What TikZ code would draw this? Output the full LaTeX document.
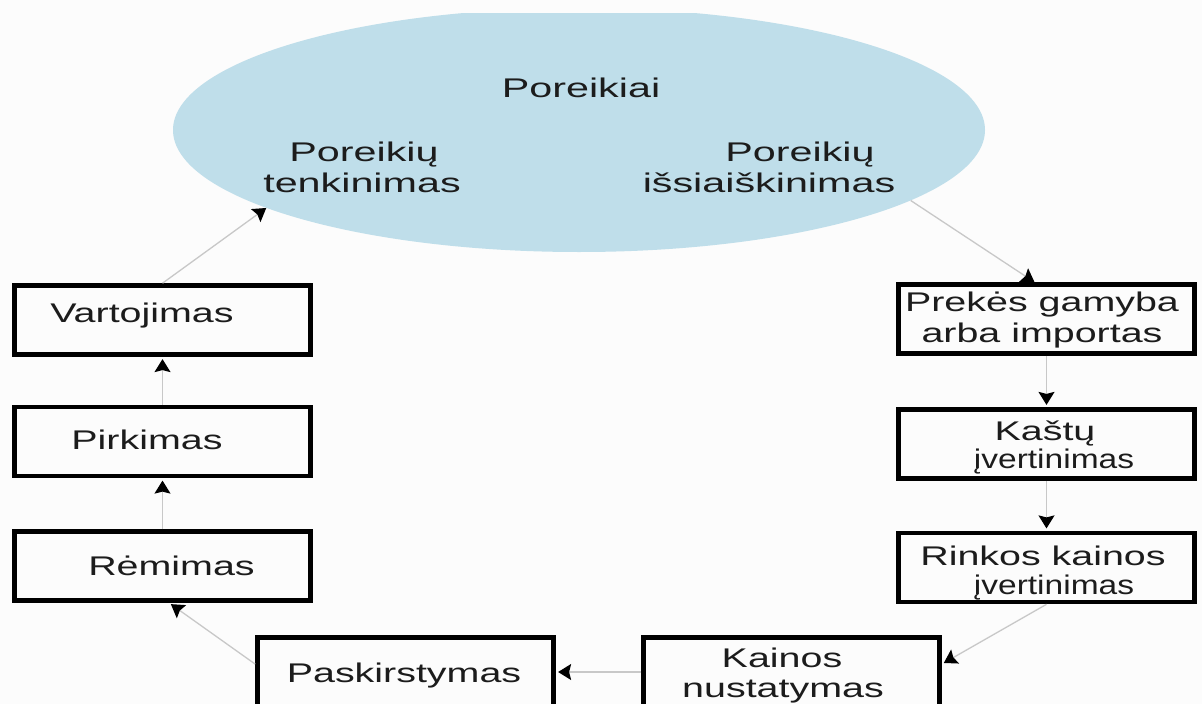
\documentclass[tikz,border=0pt]{standalone}
\usepackage{fontspec}
\setmainfont{Liberation Sans}
\newfontfamily\efont[FakeStretch=1.53]{Liberation Sans}
\newfontfamily\bfont[FakeStretch=1.46]{Liberation Sans}
\usetikzlibrary{shapes.geometric,arrows.meta,calc}
\definecolor{ellblue}{RGB}{191,222,234}
\definecolor{linegray}{RGB}{200,200,200}
\definecolor{txt}{RGB}{28,28,28}
\definecolor{bg}{RGB}{252,252,252}
\begin{document}
\begin{tikzpicture}[x=1pt,y=-1pt,
  box/.style={draw=black, line width=4.6pt, minimum width=296pt, minimum height=69pt, inner sep=0pt},
  lbl/.style={anchor=base, inner sep=0pt, text=txt, font=\bfont\fontsize{27pt}{31pt}\selectfont},
  elbl/.style={anchor=base, inner sep=0pt, text=txt, font=\efont\fontsize{27pt}{31pt}\selectfont},
  conn/.style={draw=linegray, line width=1.3pt, -{Stealth[length=13pt,width=16pt,inset=2pt,color=black]}},
  tobox/.style={shorten >=2.3pt}
]
\useasboundingbox (0,0) rectangle (1202,704);
\fill[bg] (0,0) rectangle (1202,704);
\clip (0,0) rectangle (1202,704);
\begin{scope}
  \clip (0,13) rectangle (1202,704);
  \node[ellipse, fill=ellblue, minimum width=812pt, minimum height=244pt, inner sep=0pt] (ell) at (579,130) {};
\end{scope}
% ellipse texts
\node[elbl] (tpor) at (581,97) {Poreikiai};
\node[elbl] (tl1) at (364,161) {Poreikių};
\node[elbl] (tl2) at (362,192) {tenkinimas};
\node[elbl] (tr1) at (800,161) {Poreikių};
\node[elbl] (tr2) at (769,192) {išsiaiškinimas};
% boxes
\node[box] (vart) at (162.5,320) {};
\node[box] (pirk) at (162.5,441.5) {};
\node[box] (rem) at (162.5,566) {};
\node[box] (pask) at (405.5,672) {};
\node[box] (kain) at (791.5,672) {};
\node[box] (prek) at (1046.5,319) {};
\node[box] (kast) at (1046.5,444) {};
\node[box] (rink) at (1046.5,567.5) {};
% box texts
\node[lbl] (tvart) at (142,322) {Vartojimas};
\node[lbl] (tpirk) at (147,449) {Pirkimas};
\node[lbl] (trem) at (171.5,575) {Rėmimas};
\node[lbl] (tpask) at (404,682) {Paskirstymas};
\node[lbl] (tkain1) at (782,667) {Kainos};
\node[lbl] (tkain2) at (783,697) {nustatymas};
\node[lbl] (tprek1) at (1042,311) {Prekės gamyba};
\node[lbl] (tprek2) at (1042,342) {arba importas};
\node[lbl] (tkast1) at (1045,440) {Kaštų};
\node[lbl] (tkast2) at (1054,468) {\scalebox{0.85}[1]{įvertinimas}};
\node[lbl] (trink1) at (1043,565) {Rinkos kainos};
\node[lbl] (trink2) at (1054,594) {\scalebox{0.85}[1]{įvertinimas}};
% connectors
\draw[conn] (ell.-12.5) -- (prek.108);
\draw[conn,tobox] (prek.south) -- (kast.north);
\draw[conn,tobox] (kast.south) -- (rink.north);
\draw[conn,tobox] (rink.south) -- (kain.3.5);
\draw[conn,tobox] (kain.west) -- (pask.east);
\draw[conn,tobox] (pask.177) -- (rem.-80);
\draw[conn,tobox] (rem.north) -- (pirk.south);
\draw[conn,tobox] (pirk.north) -- (vart.south);
\draw[conn] (vart.north) -- (ell.194.4);
\end{tikzpicture}
\end{document}
